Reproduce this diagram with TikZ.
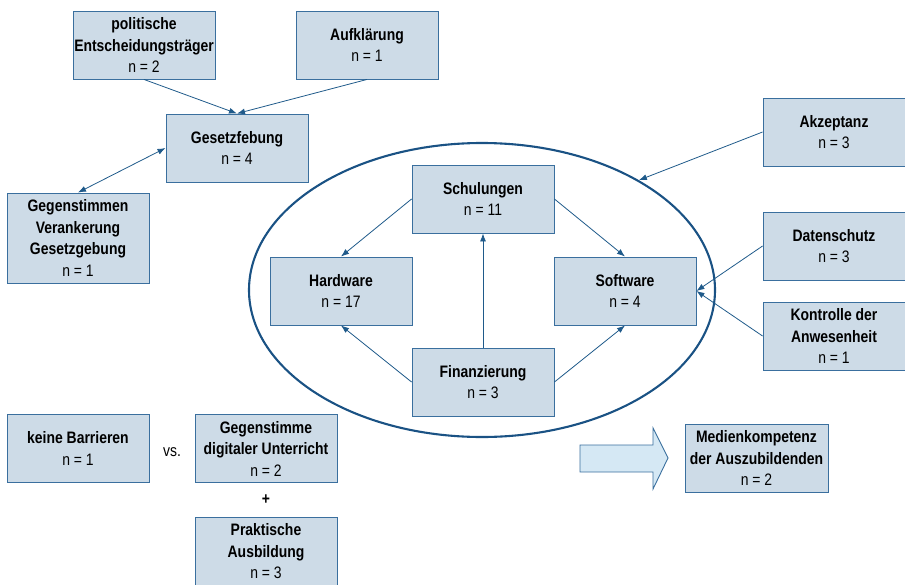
\documentclass[tikz,border=0pt]{standalone}
\usepackage{fontspec}
\setmainfont{Liberation Sans}[FakeStretch=0.84]
\usetikzlibrary{arrows.meta,shapes.geometric}

\definecolor{kastenrand}{HTML}{3A6F9E}
\definecolor{kastenfuell}{HTML}{CDDBE7}
\definecolor{pfeilblau}{HTML}{1F5A8A}
\definecolor{ellipsenblau}{HTML}{1A5284}
\definecolor{grosspfeil}{HTML}{D5E8F4}

\tikzset{
	kasten/.style={draw=kastenrand, fill=kastenfuell, line width=0.9pt, minimum width=142pt, minimum height=68pt, inner sep=0pt, align=center, font=\fontsize{16.6}{21.5}\selectfont},
	verbindung/.style={draw=pfeilblau, line width=0.8pt, -{Latex[length=8pt,width=6pt]}},
	beschrift/.style={font=\fontsize{16.6}{21.5}\selectfont, inner sep=0pt},
}

\begin{document}
\begin{tikzpicture}[x=1pt, y=-1pt]
	
	\useasboundingbox (0,0) rectangle (905,584);
	
	%% ELLIPSE
	\node [draw=ellipsenblau, line width=2.1pt, ellipse, minimum width=466pt, minimum height=294pt, inner sep=0pt] (rahmen) at (482,290) {};
	
	%% GESETZGEBUNG
	% Boxes
	\node [kasten] (polit) at (144,45) {\textbf{politische}\\\textbf{Entscheidungsträger}\\n = 2};
	\node [kasten] (aufkl) at (367,45) {\textbf{Aufklärung}\\n = 1};
	\node [kasten] (gesetz) at (237,148) {\textbf{Gesetzfebung}\\n = 4};
	\node [kasten, minimum height=90pt] (gegen) at (78,238) {\textbf{Gegenstimmen}\\\textbf{Verankerung}\\\textbf{Gesetzgebung}\\n = 1};
	
	% Arrows
	\draw [verbindung] (polit.south) -- (gesetz.north);
	\draw [verbindung] (aufkl.south) -- (gesetz.north);
	\draw [verbindung, {Latex[length=8pt,width=6pt]}-{Latex[length=8pt,width=6pt]}] (gesetz.west) -- (gegen.north);
	
	%% INNERHALB DER ELLIPSE
	% Boxes
	\node [kasten] (schul) at (483,199) {\textbf{Schulungen}\\n = 11};
	\node [kasten] (hard) at (341,291) {\textbf{Hardware}\\n = 17};
	\node [kasten] (soft) at (625,291) {\textbf{Software}\\n = 4};
	\node [kasten] (finanz) at (483,382) {\textbf{Finanzierung}\\n = 3};
	
	% Arrows
	\draw [verbindung] (schul.west) -- (hard.north);
	\draw [verbindung] (schul.east) -- (soft.north);
	\draw [verbindung] (finanz.north) -- (schul.south);
	\draw [verbindung] (finanz.west) -- (hard.south);
	\draw [verbindung] (finanz.east) -- (soft.south);
	
	%% RECHTS
	% Boxes
	\node [kasten] (akzept) at (834,132) {\textbf{Akzeptanz}\\n = 3};
	\node [kasten] (daten) at (834,246) {\textbf{Datenschutz}\\n = 3};
	\node [kasten] (kontr) at (834,336) {\textbf{Kontrolle der}\\\textbf{Anwesenheit}\\n = 1};
	
	% Arrows
	\draw [verbindung] (akzept.west) -- (rahmen.35);
	\draw [verbindung] (daten.west) -- (soft.east);
	\draw [verbindung] (kontr.west) -- (soft.east);
	
	%% UNTEN
	\node [kasten] (keine) at (78,448.5) {\textbf{keine Barrieren}\\n = 1};
	\node [beschrift] (vs) at (172,452) {vs.};
	\node [kasten] (digital) at (266,448.5) {\textbf{Gegenstimme}\\\textbf{digitaler Unterricht}\\n = 2};
	\node [beschrift] (plus) at (266,500) {\textbf{+}};
	\node [kasten] (praxis) at (266,551.5) {\textbf{Praktische}\\\textbf{Ausbildung}\\n = 3};
	
	% Big arrow
	\draw [draw=kastenrand, fill=grosspfeil, line width=0.9pt] (580,445) -- (653,445) -- (653,428) -- (668,458) -- (653,489) -- (653,472) -- (580,472) -- cycle;
	\node [kasten, minimum width=143pt] (medien) at (756.5,458) {\textbf{Medienkompetenz}\\\textbf{der Auszubildenden}\\n = 2};
	
\end{tikzpicture}
\end{document}
